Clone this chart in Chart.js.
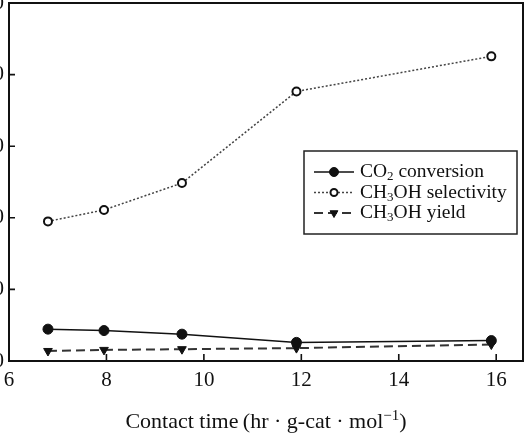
<!DOCTYPE html>
<html><head><meta charset="utf-8">
<script src="https://cdn.jsdelivr.net/npm/chart.js@4/dist/chart.umd.min.js"></script>
<style>
html,body{margin:0;padding:0;background:#fff;overflow:hidden;width:529px;height:434px}
#wrap{position:absolute;left:-31px;top:-20px;width:560px;height:454px}
</style>
</head><body><div id="wrap"><canvas id="c"></canvas></div>
<script>
const contactTime = [6.8, 7.95, 9.55, 11.9, 15.9];
const co2Conversion = [8.9, 8.5, 7.5, 5.2, 5.7];
const ch3ohSelectivity = [39.0, 42.2, 49.7, 75.3, 85.1];
const ch3ohYield = [2.8, 3.1, 3.3, 3.6, 4.6];
const seriesNames = ['CO{2} conversion', 'CH{3}OH selectivity', 'CH{3}OH yield'];
const xTicks = [6, 8, 10, 12, 14, 16];
const yTicks = [0, 20, 40, 60, 80, 100];
const xTitle = 'Contact time\u2009(hr \u00b7 g-cat \u00b7 mol[\u22121])';

const FONT = '"Liberation Serif", "Times New Roman", serif';
const pts = (ys) => contactTime.map((x, i) => ({x: x, y: ys[i]}));

function richParts(text) {
  return text.split(/(\{[^}]*\}|\[[^\]]*\])/).filter(p => p).map(p => {
    if (p[0] === '{') return {t: p.slice(1, -1), k: 'sub'};
    if (p[0] === '[') return {t: p.slice(1, -1), k: 'sup'};
    return {t: p, k: 'n'};
  });
}
function richWidth(ctx, text, size) {
  let w = 0;
  richParts(text).forEach(p => {
    ctx.font = (p.k === 'n' ? size : Math.round(size * 0.68)) + 'px ' + FONT;
    w += ctx.measureText(p.t).width;
  });
  return w;
}
function drawRich(ctx, text, x, y, size) {
  let cx = x;
  richParts(text).forEach(p => {
    let dy = 0;
    if (p.k === 'n') ctx.font = size + 'px ' + FONT;
    else {
      ctx.font = Math.round(size * 0.68) + 'px ' + FONT;
      dy = p.k === 'sub' ? size * 0.25 : -size * 0.36;
    }
    ctx.fillText(p.t, cx, y + dy);
    cx += ctx.measureText(p.t).width;
  });
}

const frameAndTicks = {
  id: 'frameAndTicks',
  afterDatasetsDraw(chart) {
    const {ctx, chartArea: a, scales: {x, y}} = chart;
    ctx.save();
    ctx.strokeStyle = '#111';
    ctx.lineWidth = 1.6;
    ctx.beginPath();
    xTicks.forEach(v => { const px = x.getPixelForValue(v); ctx.moveTo(px, a.bottom); ctx.lineTo(px, a.bottom - 7); });
    yTicks.forEach(v => { const py = y.getPixelForValue(v); ctx.moveTo(a.left, py); ctx.lineTo(a.left + 6, py); });
    ctx.stroke();
    ctx.lineWidth = 2;
    ctx.strokeRect(a.left, a.top, a.right - a.left, a.bottom - a.top);
    const size = 22;
    const w = richWidth(ctx, xTitle, size);
    ctx.fillStyle = '#111';
    ctx.textBaseline = 'alphabetic';
    ctx.textAlign = 'left';
    drawRich(ctx, xTitle, (a.left + a.right) / 2 - w / 2, a.bottom + 67, size);
    ctx.restore();
  }
};

const customLegend = {
  id: 'customLegend',
  afterDraw(chart) {
    const {ctx, chartArea: a} = chart;
    const bw = 213, bh = 83;
    const bx = a.right - 6 - bw, by = a.top + 148;
    ctx.save();
    ctx.fillStyle = '#fff';
    ctx.fillRect(bx, by, bw, bh);
    ctx.strokeStyle = '#222';
    ctx.lineWidth = 1.5;
    ctx.strokeRect(bx, by, bw, bh);
    chart.data.datasets.forEach((ds, i) => {
      const ry = by + 21 + i * 20.5;
      const x0 = bx + 10, x1 = bx + 50, mx = bx + 30;
      ctx.strokeStyle = ds.borderColor;
      ctx.lineWidth = ds.borderWidth;
      ctx.setLineDash(ds.borderDash || []);
      ctx.beginPath(); ctx.moveTo(x0, ry); ctx.lineTo(x1, ry); ctx.stroke();
      ctx.setLineDash([]);
      ctx.fillStyle = ds.pointBackgroundColor;
      ctx.strokeStyle = ds.pointBorderColor;
      ctx.lineWidth = ds.pointBorderWidth;
      Chart.helpers.drawPoint(ctx, {
        pointStyle: ds.pointStyle, rotation: ds.pointRotation || 0,
        radius: ds.pointRadius - 0.5, borderWidth: ds.pointBorderWidth
      }, mx, ry);
      ctx.fillStyle = '#111';
      ctx.textBaseline = 'middle';
      ctx.textAlign = 'left';
      drawRich(ctx, seriesNames[i], bx + 56, ry, 19.5);
    });
    ctx.restore();
  }
};

new Chart(document.getElementById('c'), {
  type: 'line',
  data: {
    datasets: [
      { label: 'CO2 conversion', data: pts(co2Conversion), borderColor: '#111', borderWidth: 1.5,
        pointStyle: 'circle', pointRadius: 5, pointBackgroundColor: '#111', pointBorderColor: '#111', pointBorderWidth: 1 },
      { label: 'CH3OH selectivity', data: pts(ch3ohSelectivity), borderColor: '#444', borderWidth: 1.5, borderDash: [2, 2],
        pointStyle: 'circle', pointRadius: 4, pointBackgroundColor: '#fff', pointBorderColor: '#111', pointBorderWidth: 2 },
      { label: 'CH3OH yield', data: pts(ch3ohYield), borderColor: '#333', borderWidth: 2, borderDash: [9, 5],
        pointStyle: 'triangle', pointRotation: 180, pointRadius: 5, pointBackgroundColor: '#111', pointBorderColor: '#111', pointBorderWidth: 1 }
    ]
  },
  options: {
    responsive: true, maintainAspectRatio: false, animation: false,
    layout: { padding: { top: 23, right: 6, bottom: 0, left: 0 } },
    plugins: { legend: { display: false }, tooltip: { enabled: false } },
    scales: {
      x: {
        type: 'linear', min: 6, max: 16.55,
        afterBuildTicks: s => { s.ticks = xTicks.map(v => ({value: v})); },
        afterFit: s => { s.height = 73; },
        grid: { drawOnChartArea: false, drawTicks: false },
        border: { display: false },
        ticks: { padding: 6.5, color: '#111', font: { family: FONT, size: 21 }, maxRotation: 0 },
        title: { display: false }
      },
      y: {
        type: 'linear', min: 0, max: 100,
        afterBuildTicks: s => { s.ticks = yTicks.map(v => ({value: v})); },
        afterFit: s => { s.width = 40; },
        grid: { drawOnChartArea: false, drawTicks: false },
        border: { display: false },
        ticks: { padding: 5, color: '#111', font: { family: FONT, size: 21 } }
      }
    }
  },
  plugins: [frameAndTicks, customLegend]
});
</script>
</body></html>
